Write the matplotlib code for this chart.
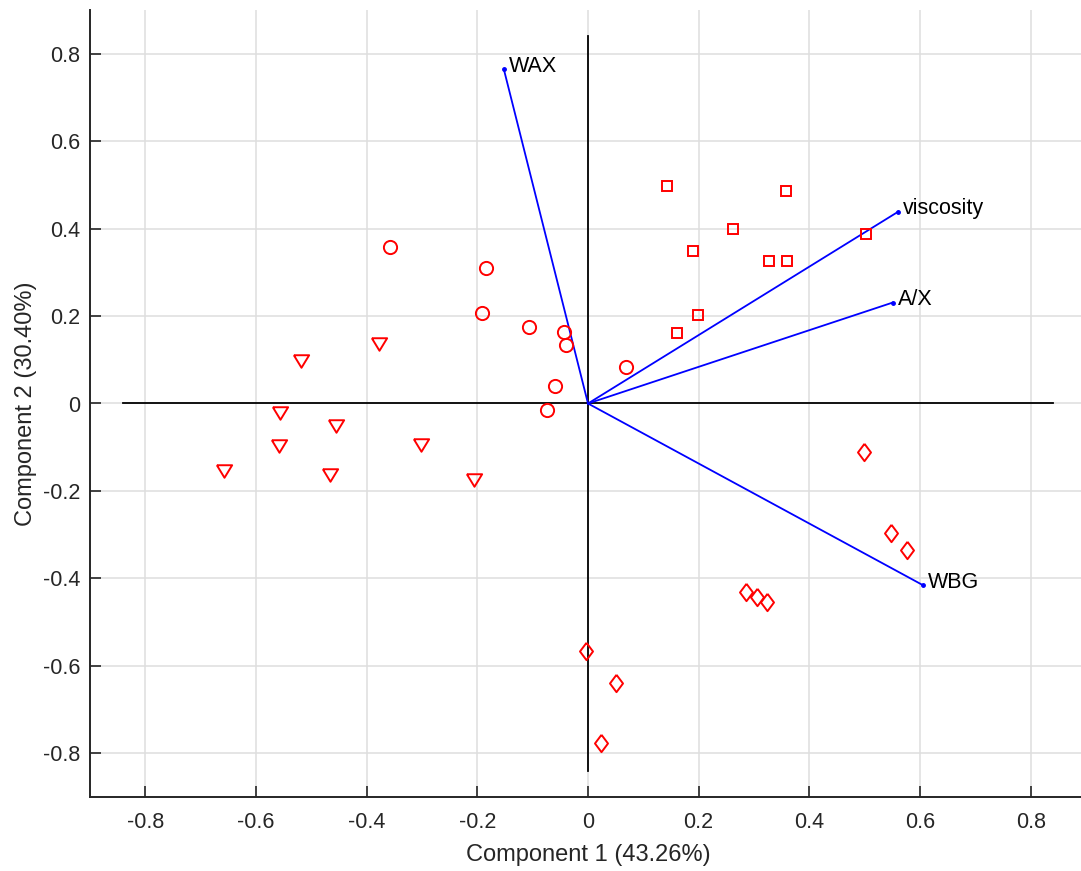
import numpy as np
import matplotlib
matplotlib.use('Agg')
import matplotlib.pyplot as plt
matplotlib.rcParams['font.family'] = 'Liberation Sans'
matplotlib.rcParams['font.size'] = 15.5

# loadings (variable vectors)
var_names = ['WAX', 'viscosity', 'A/X', 'WBG']
var_x = [-0.152, 0.561, 0.551, 0.606]
var_y = [0.764, 0.439, 0.231, -0.416]

# scores, one array per group
circ_x = [-0.358, -0.185, -0.191, -0.106, -0.044, -0.040, 0.068, -0.059, -0.074]
circ_y = [0.358, 0.310, 0.208, 0.175, 0.164, 0.134, 0.083, 0.041, -0.015]
tri_x = [-0.377, -0.518, -0.556, -0.456, -0.559, -0.301, -0.658, -0.466, -0.206]
tri_y = [0.137, 0.098, -0.021, -0.052, -0.098, -0.096, -0.155, -0.163, -0.176]
sq_x = [0.143, 0.358, 0.262, 0.189, 0.328, 0.360, 0.502, 0.198, 0.160]
sq_y = [0.498, 0.485, 0.400, 0.349, 0.327, 0.327, 0.387, 0.202, 0.162]
dia_x = [0.498, 0.548, 0.577, 0.285, 0.305, 0.323, -0.003, 0.050, 0.024]
dia_y = [-0.111, -0.297, -0.334, -0.431, -0.443, -0.455, -0.565, -0.639, -0.776]

tick_vals = [-0.8, -0.6, -0.4, -0.2, 0, 0.2, 0.4, 0.6, 0.8]
tick_labels = ['-0.8', '-0.6', '-0.4', '-0.2', '0', '0.2', '0.4', '0.6', '0.8']

fig = plt.figure(figsize=(10.81, 8.71), dpi=100)
ax = fig.add_axes([90/1081, 74/871, 996/1081, 787/871])

ax.set_xlim(-0.9, 0.9)
ax.set_ylim(-0.9, 0.9)
ax.set_xticks(tick_vals)
ax.set_yticks(tick_vals)
ax.set_xticklabels(tick_labels)
ax.set_yticklabels(tick_labels)
ax.grid(True, color='#dedede', linewidth=1.1)
ax.set_axisbelow(True)

for s in ['top', 'right']:
    ax.spines[s].set_visible(False)
for s in ['left', 'bottom']:
    ax.spines[s].set_color('#262626')
    ax.spines[s].set_linewidth(1.4)
ax.tick_params(direction='in', length=8, width=1.2, colors='#262626', labelsize=15.5)
ax.tick_params(axis='x', pad=11)
ax.tick_params(axis='y', pad=7)

# crosshair axes of the biplot
m = 1.1 * max(np.max(np.abs(var_x)), np.max(np.abs(var_y)))
ax.plot([-m, m], [0, 0], color='black', linewidth=1.3)
ax.plot([0, 0], [-m, m], color='black', linewidth=1.3)

for n, x, y in zip(var_names, var_x, var_y):
    ax.plot([0, x], [0, y], color='blue', linewidth=1.3)
    ax.plot(x, y, '.', color='blue', markersize=5)
    ax.annotate(n, (x, y), xytext=(3.5, 2), textcoords='offset points',
                fontsize=15.5, color='black', va='center', ha='left')

tri_marker = [(-1, 0.82), (1, 0.82), (0, -0.82), (-1, 0.82)]
dia_marker = [(0, 1), (0.75, 0), (0, -1), (-0.75, 0), (0, 1)]

mk = dict(linestyle='none', markerfacecolor='none', markeredgecolor='red', markeredgewidth=1.4)
ax.plot(circ_x, circ_y, 'o', markersize=9.5, **mk)
ax.plot(tri_x, tri_y, marker=tri_marker, markersize=11, **mk)
ax.plot(sq_x, sq_y, 's', markersize=7, **mk)
ax.plot(dia_x, dia_y, marker=dia_marker, markersize=12.5, **mk)

ax.set_xlabel('Component 1 (43.26%)', fontsize=17, color='#262626', labelpad=8)
ax.set_ylabel('Component 2 (30.40%)', fontsize=17, color='#262626')

plt.savefig('out.png', dpi=100)
